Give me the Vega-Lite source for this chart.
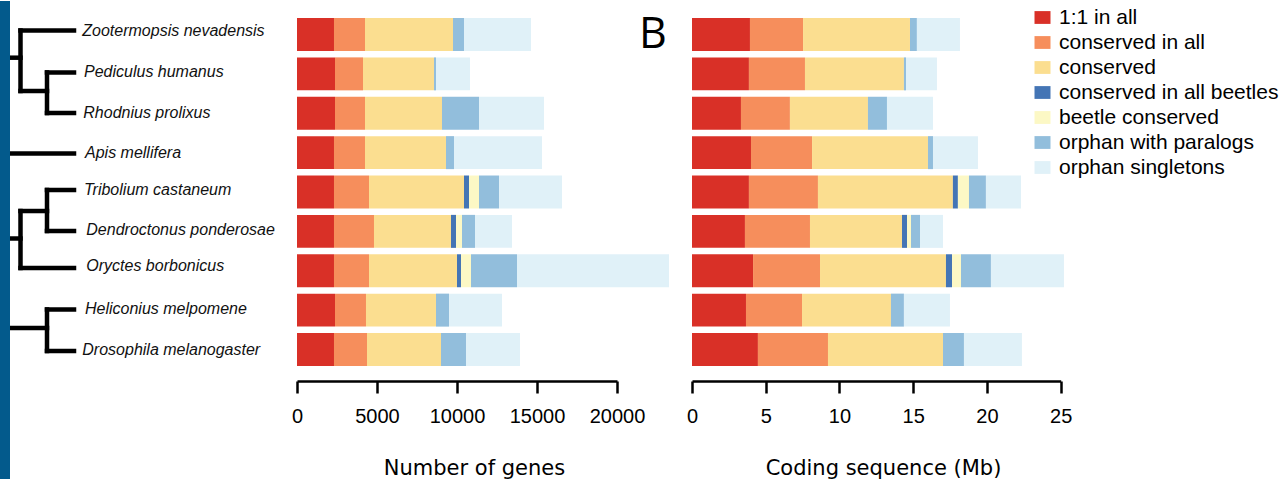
{
  "$schema": "https://vega.github.io/schema/vega-lite/v6.json",
  "padding": 0,
  "background": "white",
  "spacing": 75,
  "bounds": "flush",
  "config": {"view": {"stroke": null}},
  "datasets": {
    "bars": [
      {"species": "Zootermopsis nevadensis", "category": "1:1 in all", "rank": 1, "genes": 2312, "mb": 3.93},
      {"species": "Zootermopsis nevadensis", "category": "conserved in all", "rank": 2, "genes": 1938, "mb": 3.60},
      {"species": "Zootermopsis nevadensis", "category": "conserved", "rank": 3, "genes": 5500, "mb": 7.25},
      {"species": "Zootermopsis nevadensis", "category": "orphan with paralogs", "rank": 6, "genes": 687, "mb": 0.47},
      {"species": "Zootermopsis nevadensis", "category": "orphan singletons", "rank": 7, "genes": 4188, "mb": 2.92},
      {"species": "Pediculus humanus", "category": "1:1 in all", "rank": 1, "genes": 2375, "mb": 3.86},
      {"species": "Pediculus humanus", "category": "conserved in all", "rank": 2, "genes": 1750, "mb": 3.80},
      {"species": "Pediculus humanus", "category": "conserved", "rank": 3, "genes": 4437, "mb": 6.71},
      {"species": "Pediculus humanus", "category": "orphan with paralogs", "rank": 6, "genes": 125, "mb": 0.14},
      {"species": "Pediculus humanus", "category": "orphan singletons", "rank": 7, "genes": 2125, "mb": 2.10},
      {"species": "Rhodnius prolixus", "category": "1:1 in all", "rank": 1, "genes": 2375, "mb": 3.32},
      {"species": "Rhodnius prolixus", "category": "conserved in all", "rank": 2, "genes": 1875, "mb": 3.32},
      {"species": "Rhodnius prolixus", "category": "conserved", "rank": 3, "genes": 4812, "mb": 5.29},
      {"species": "Rhodnius prolixus", "category": "orphan with paralogs", "rank": 6, "genes": 2313, "mb": 1.29},
      {"species": "Rhodnius prolixus", "category": "orphan singletons", "rank": 7, "genes": 4062, "mb": 3.12},
      {"species": "Apis mellifera", "category": "1:1 in all", "rank": 1, "genes": 2312, "mb": 4.00},
      {"species": "Apis mellifera", "category": "conserved in all", "rank": 2, "genes": 1938, "mb": 4.14},
      {"species": "Apis mellifera", "category": "conserved", "rank": 3, "genes": 5062, "mb": 7.86},
      {"species": "Apis mellifera", "category": "orphan with paralogs", "rank": 6, "genes": 500, "mb": 0.34},
      {"species": "Apis mellifera", "category": "orphan singletons", "rank": 7, "genes": 5500, "mb": 3.05},
      {"species": "Tribolium castaneum", "category": "1:1 in all", "rank": 1, "genes": 2312, "mb": 3.86},
      {"species": "Tribolium castaneum", "category": "conserved in all", "rank": 2, "genes": 2188, "mb": 4.68},
      {"species": "Tribolium castaneum", "category": "conserved", "rank": 3, "genes": 5937, "mb": 9.15},
      {"species": "Tribolium castaneum", "category": "conserved in all beetles", "rank": 4, "genes": 313, "mb": 0.34},
      {"species": "Tribolium castaneum", "category": "beetle conserved", "rank": 5, "genes": 625, "mb": 0.75},
      {"species": "Tribolium castaneum", "category": "orphan with paralogs", "rank": 6, "genes": 1250, "mb": 1.15},
      {"species": "Tribolium castaneum", "category": "orphan singletons", "rank": 7, "genes": 3937, "mb": 2.38},
      {"species": "Dendroctonus ponderosae", "category": "1:1 in all", "rank": 1, "genes": 2312, "mb": 3.59},
      {"species": "Dendroctonus ponderosae", "category": "conserved in all", "rank": 2, "genes": 2500, "mb": 4.41},
      {"species": "Dendroctonus ponderosae", "category": "conserved", "rank": 3, "genes": 4813, "mb": 6.24},
      {"species": "Dendroctonus ponderosae", "category": "conserved in all beetles", "rank": 4, "genes": 312, "mb": 0.34},
      {"species": "Dendroctonus ponderosae", "category": "beetle conserved", "rank": 5, "genes": 375, "mb": 0.27},
      {"species": "Dendroctonus ponderosae", "category": "orphan with paralogs", "rank": 6, "genes": 813, "mb": 0.61},
      {"species": "Dendroctonus ponderosae", "category": "orphan singletons", "rank": 7, "genes": 2312, "mb": 1.56},
      {"species": "Oryctes borbonicus", "category": "1:1 in all", "rank": 1, "genes": 2312, "mb": 4.14},
      {"species": "Oryctes borbonicus", "category": "conserved in all", "rank": 2, "genes": 2188, "mb": 4.54},
      {"species": "Oryctes borbonicus", "category": "conserved", "rank": 3, "genes": 5500, "mb": 8.54},
      {"species": "Oryctes borbonicus", "category": "conserved in all beetles", "rank": 4, "genes": 250, "mb": 0.41},
      {"species": "Oryctes borbonicus", "category": "beetle conserved", "rank": 5, "genes": 625, "mb": 0.61},
      {"species": "Oryctes borbonicus", "category": "orphan with paralogs", "rank": 6, "genes": 2875, "mb": 2.03},
      {"species": "Oryctes borbonicus", "category": "orphan singletons", "rank": 7, "genes": 9500, "mb": 4.95},
      {"species": "Heliconius melpomene", "category": "1:1 in all", "rank": 1, "genes": 2375, "mb": 3.66},
      {"species": "Heliconius melpomene", "category": "conserved in all", "rank": 2, "genes": 1937, "mb": 3.80},
      {"species": "Heliconius melpomene", "category": "conserved", "rank": 3, "genes": 4375, "mb": 6.03},
      {"species": "Heliconius melpomene", "category": "orphan with paralogs", "rank": 6, "genes": 813, "mb": 0.88},
      {"species": "Heliconius melpomene", "category": "orphan singletons", "rank": 7, "genes": 3312, "mb": 3.12},
      {"species": "Drosophila melanogaster", "category": "1:1 in all", "rank": 1, "genes": 2312, "mb": 4.47},
      {"species": "Drosophila melanogaster", "category": "conserved in all", "rank": 2, "genes": 2063, "mb": 4.75},
      {"species": "Drosophila melanogaster", "category": "conserved", "rank": 3, "genes": 4625, "mb": 7.80},
      {"species": "Drosophila melanogaster", "category": "orphan with paralogs", "rank": 6, "genes": 1562, "mb": 1.42},
      {"species": "Drosophila melanogaster", "category": "orphan singletons", "rank": 7, "genes": 3375, "mb": 3.93}
    ],
    "tree": [
      {"x1": 2.05, "x2": 7.4, "y1": -0.102, "y2": -0.102},
      {"x1": 4.7, "x2": 7.4, "y1": 0.963, "y2": 0.963},
      {"x1": 4.7, "x2": 7.4, "y1": 1.994, "y2": 1.994},
      {"x1": 1.0, "x2": 7.4, "y1": 3.022, "y2": 3.022},
      {"x1": 4.7, "x2": 7.4, "y1": 3.949, "y2": 3.949},
      {"x1": 4.7, "x2": 7.4, "y1": 4.99, "y2": 4.99},
      {"x1": 2.05, "x2": 7.4, "y1": 5.93, "y2": 5.93},
      {"x1": 4.7, "x2": 7.4, "y1": 6.984, "y2": 6.984},
      {"x1": 4.7, "x2": 7.4, "y1": 8.038, "y2": 8.038},
      {"x1": 2.05, "x2": 4.7, "y1": 1.435, "y2": 1.435},
      {"x1": 1.0, "x2": 2.05, "y1": 0.589, "y2": 0.589},
      {"x1": 2.05, "x2": 4.7, "y1": 4.483, "y2": 4.483},
      {"x1": 1.0, "x2": 2.05, "y1": 5.181, "y2": 5.181},
      {"x1": 1.0, "x2": 4.7, "y1": 7.454, "y2": 7.454},
      {"x1": 2.05, "x2": 2.05, "y1": -0.102, "y2": 1.435},
      {"x1": 4.7, "x2": 4.7, "y1": 0.963, "y2": 1.994},
      {"x1": 4.7, "x2": 4.7, "y1": 3.949, "y2": 4.99},
      {"x1": 2.05, "x2": 2.05, "y1": 4.483, "y2": 5.93},
      {"x1": 4.7, "x2": 4.7, "y1": 6.984, "y2": 8.038}
    ],
    "labels": [
      {"species": "Zootermopsis nevadensis", "x": 8.23, "y": -0.089},
      {"species": "Pediculus humanus", "x": 8.4, "y": 0.96},
      {"species": "Rhodnius prolixus", "x": 8.33, "y": 1.994},
      {"species": "Apis mellifera", "x": 8.5, "y": 2.997},
      {"species": "Tribolium castaneum", "x": 8.4, "y": 3.944},
      {"species": "Dendroctonus ponderosae", "x": 8.63, "y": 4.96},
      {"species": "Oryctes borbonicus", "x": 8.63, "y": 5.885},
      {"species": "Heliconius melpomene", "x": 8.5, "y": 6.966},
      {"species": "Drosophila melanogaster", "x": 8.23, "y": 8.025}
    ],
    "strip": [{"x1": 0, "x2": 1.0, "y1": -0.851, "y2": 11.33}],
    "panel": [{"tag": "B", "genes": 21375, "species": "Zootermopsis nevadensis"}]
  },
  "hconcat": [
    {
      "width": 222,
      "height": 378,
      "layer": [
        {
          "data": {"name": "tree"},
          "mark": {"type": "rule", "strokeWidth": 4.5, "strokeCap": "square", "color": "#000000"},
          "encoding": {
            "x": {"field": "x1", "type": "quantitative", "scale": {"domain": [0, 22.2], "nice": false, "zero": false}, "axis": null},
            "x2": {"field": "x2"},
            "y": {"field": "y1", "type": "quantitative", "scale": {"domain": [-0.8, 8.8], "reverse": true, "nice": false, "zero": false}, "axis": null},
            "y2": {"field": "y2"}
          }
        },
        {
          "data": {"name": "strip"},
          "mark": {"type": "rect", "color": "#035a8c"},
          "encoding": {
            "x": {"field": "x1", "type": "quantitative", "scale": {"domain": [0, 22.2], "nice": false, "zero": false}, "axis": null},
            "x2": {"field": "x2"},
            "y": {"field": "y1", "type": "quantitative", "scale": {"domain": [-0.8, 8.8], "reverse": true, "nice": false, "zero": false}, "axis": null},
            "y2": {"field": "y2"}
          }
        },
        {
          "data": {"name": "labels"},
          "mark": {"type": "text", "align": "left", "baseline": "middle", "font": "Liberation Sans", "fontStyle": "italic", "fontSize": 16, "color": "#111111"},
          "encoding": {
            "x": {"field": "x", "type": "quantitative", "scale": {"domain": [0, 22.2], "nice": false, "zero": false}, "axis": null},
            "y": {"field": "y", "type": "quantitative", "scale": {"domain": [-0.8, 8.8], "reverse": true, "nice": false, "zero": false}, "axis": null},
            "text": {"field": "species"}
          }
        }
      ]
    },
    {
      "width": 320,
      "height": 378,
      "encoding": {
        "y": {"field": "species", "type": "nominal", "sort": null, "scale": {"domain": ["Zootermopsis nevadensis", "Pediculus humanus", "Rhodnius prolixus", "Apis mellifera", "Tribolium castaneum", "Dendroctonus ponderosae", "Oryctes borbonicus", "Heliconius melpomene", "Drosophila melanogaster"], "paddingInner": 0.162, "paddingOuter": 0.381}, "axis": null}
      },
      "layer": [
        {
          "data": {"name": "bars"},
          "mark": {"type": "bar"},
          "encoding": {
            "x": {
              "field": "genes", "type": "quantitative", "stack": "zero",
              "scale": {"domain": [0, 20000], "nice": false},
              "axis": {
                "values": [0, 5000, 10000, 15000, 20000], "format": "d", "grid": false,
                "domainColor": "#000000", "domainWidth": 2.5, "tickColor": "#000000", "tickWidth": 2.5, "tickSize": 12,
                "labelFont": "Liberation Sans", "labelFontSize": 20, "labelColor": "#000000", "labelPadding": 13,
                "labelFlush": false, "labelOverlap": false,
                "title": "Number of genes", "titleFont": "DejaVu Sans", "titleFontSize": 21, "titleFontWeight": "normal",
                "titleColor": "#000000", "titlePadding": 31, "titleX": 177
              }
            },
            "color": {
              "field": "category", "type": "nominal",
              "scale": {
                "domain": ["1:1 in all", "conserved in all", "conserved", "conserved in all beetles", "beetle conserved", "orphan with paralogs", "orphan singletons"],
                "range": ["#d93027", "#f68e5c", "#fbde90", "#4475b5", "#fcf8c5", "#92bedc", "#e0f1f8"]
              },
              "legend": null
            },
            "order": {"field": "rank", "type": "quantitative"}
          }
        },
        {
          "data": {"name": "panel"},
          "mark": {"type": "text", "align": "left", "baseline": "middle", "font": "Open Sans", "fontSize": 43, "color": "#000000"},
          "encoding": {
            "x": {"field": "genes", "type": "quantitative"},
            "text": {"field": "tag"}
          }
        }
      ]
    },
    {
      "width": 368.7,
      "height": 378,
      "data": {"name": "bars"},
      "mark": {"type": "bar"},
      "encoding": {
        "y": {"field": "species", "type": "nominal", "sort": null, "scale": {"paddingInner": 0.162, "paddingOuter": 0.381}, "axis": null},
        "x": {
          "field": "mb", "type": "quantitative", "stack": "zero",
          "scale": {"domain": [0, 25], "nice": false},
          "axis": {
            "values": [0, 5, 10, 15, 20, 25], "format": "d", "grid": false,
            "domainColor": "#000000", "domainWidth": 2.5, "tickColor": "#000000", "tickWidth": 2.5, "tickSize": 12,
            "labelFont": "Liberation Sans", "labelFontSize": 20, "labelColor": "#000000", "labelPadding": 13,
            "labelFlush": false, "labelOverlap": false,
            "title": "Coding sequence (Mb)", "titleFont": "DejaVu Sans", "titleFontSize": 21, "titleFontWeight": "normal",
            "titleColor": "#000000", "titlePadding": 31, "titleX": 191
          }
        },
        "color": {
          "field": "category", "type": "nominal",
          "scale": {
            "domain": ["1:1 in all", "conserved in all", "conserved", "conserved in all beetles", "beetle conserved", "orphan with paralogs", "orphan singletons"],
            "range": ["#d93027", "#f68e5c", "#fbde90", "#4475b5", "#fcf8c5", "#92bedc", "#e0f1f8"]
          },
          "legend": {
            "orient": "none", "legendX": 340, "legendY": 4, "title": null, "padding": 0,
            "labelFont": "Liberation Sans", "labelFontSize": 21, "labelColor": "#000000", "labelLimit": 400,
            "symbolType": "M-1,-0.8H1V0.8H-1Z", "symbolSize": 256, "symbolStrokeWidth": 0, "symbolOpacity": 1,
            "rowPadding": 3, "labelOffset": 6
          }
        },
        "order": {"field": "rank", "type": "quantitative"}
      }
    }
  ],
  "resolve": {
    "scale": {"x": "independent", "y": "independent", "color": "independent"},
    "legend": {"color": "independent"}
  }
}
